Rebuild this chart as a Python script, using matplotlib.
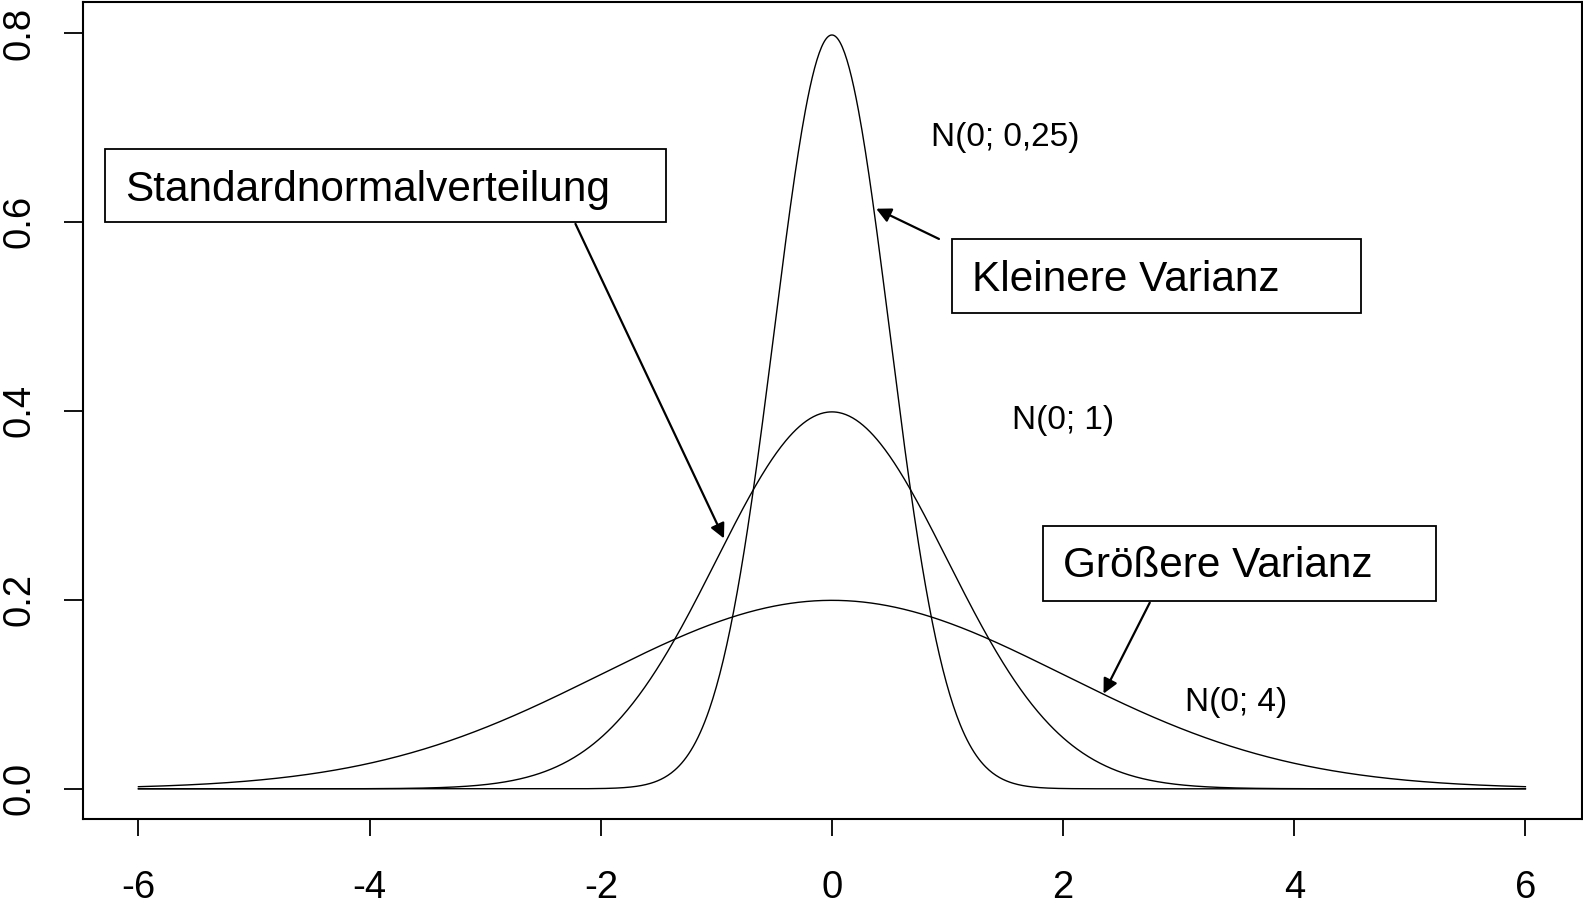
import numpy as np
import matplotlib
matplotlib.use("Agg")
import matplotlib.pyplot as plt
from matplotlib.patches import Rectangle

plt.rcParams["font.family"] = ["Liberation Sans", "DejaVu Sans"]

# three normal densities N(mu; sigma^2), drawn on [-6, 6]
means = [0, 0, 0]
variances = [0.25, 1, 4]
x_from, x_to = -6, 6

curve_labels = ["N(0; 0,25)", "N(0; 1)", "N(0; 4)"]
curve_label_pos = [(1.5, 0.689), (2.0, 0.390), (3.5, 0.091)]

box_texts = ["Standardnormalverteilung", "Kleinere Varianz", "Größere Varianz"]
box_rects = [(-6.289, 0.600, -1.436, 0.677),
             (1.038, 0.5036, 4.576, 0.582),
             (1.825, 0.1987, 5.225, 0.278)]
box_text_pos = [(-6.113, 0.634), (1.211, 0.539), (2.0, 0.236)]
arrow_from = [(-2.219, 0.598), (0.926, 0.582), (2.75, 0.197)]
arrow_to = [(-0.934, 0.265), (0.383, 0.614), (2.35, 0.1007)]

xticks = [-6, -4, -2, 0, 2, 4, 6]
yticks = [0.0, 0.2, 0.4, 0.6, 0.8]


def dnorm(x, mu, var):
    return np.exp(-(x - mu) ** 2 / (2 * var)) / np.sqrt(2 * np.pi * var)


fig = plt.figure(figsize=(15.83, 9.07), dpi=100)
ax = fig.add_axes([0.0524, 0.097, 0.947, 0.9008])

xs = np.linspace(x_from, x_to, 1201)
for mu, var in zip(means, variances):
    ax.plot(xs, dnorm(xs, mu, var), color="black", lw=1.0)

for txt, (tx, ty) in zip(curve_labels, curve_label_pos):
    ax.text(tx, ty, txt, ha="center", va="center", fontsize=24)

for txt, (x0, y0, x1, y1), (tx, ty) in zip(box_texts, box_rects, box_text_pos):
    ax.add_patch(Rectangle((x0, y0), x1 - x0, y1 - y0, fill=False,
                           edgecolor="black", lw=1.3))
    ax.text(tx, ty, txt, ha="left", va="center", fontsize=30.5)

for start, end in zip(arrow_from, arrow_to):
    ax.annotate("", xy=end, xytext=start,
                arrowprops=dict(arrowstyle="-|>", color="black", lw=1.6,
                                mutation_scale=22, shrinkA=0, shrinkB=0))

ax.set_xlim(-6.48, 6.49)
ax.set_ylim(-0.032, 0.8328)
ax.set_xticks(xticks)
ax.set_xticklabels([f"{t:g}" for t in xticks])
ax.set_yticks(yticks)
ax.set_yticklabels([f"{t:.1f}" for t in yticks], rotation=90, va="center")
ax.tick_params(axis="x", length=12, width=1.3, labelsize=27.5, pad=25)
ax.tick_params(axis="y", length=14, width=1.3, labelsize=27.5, pad=19)
for sp in ax.spines.values():
    sp.set_linewidth(1.5)

fig.savefig("out.png", dpi=100)
